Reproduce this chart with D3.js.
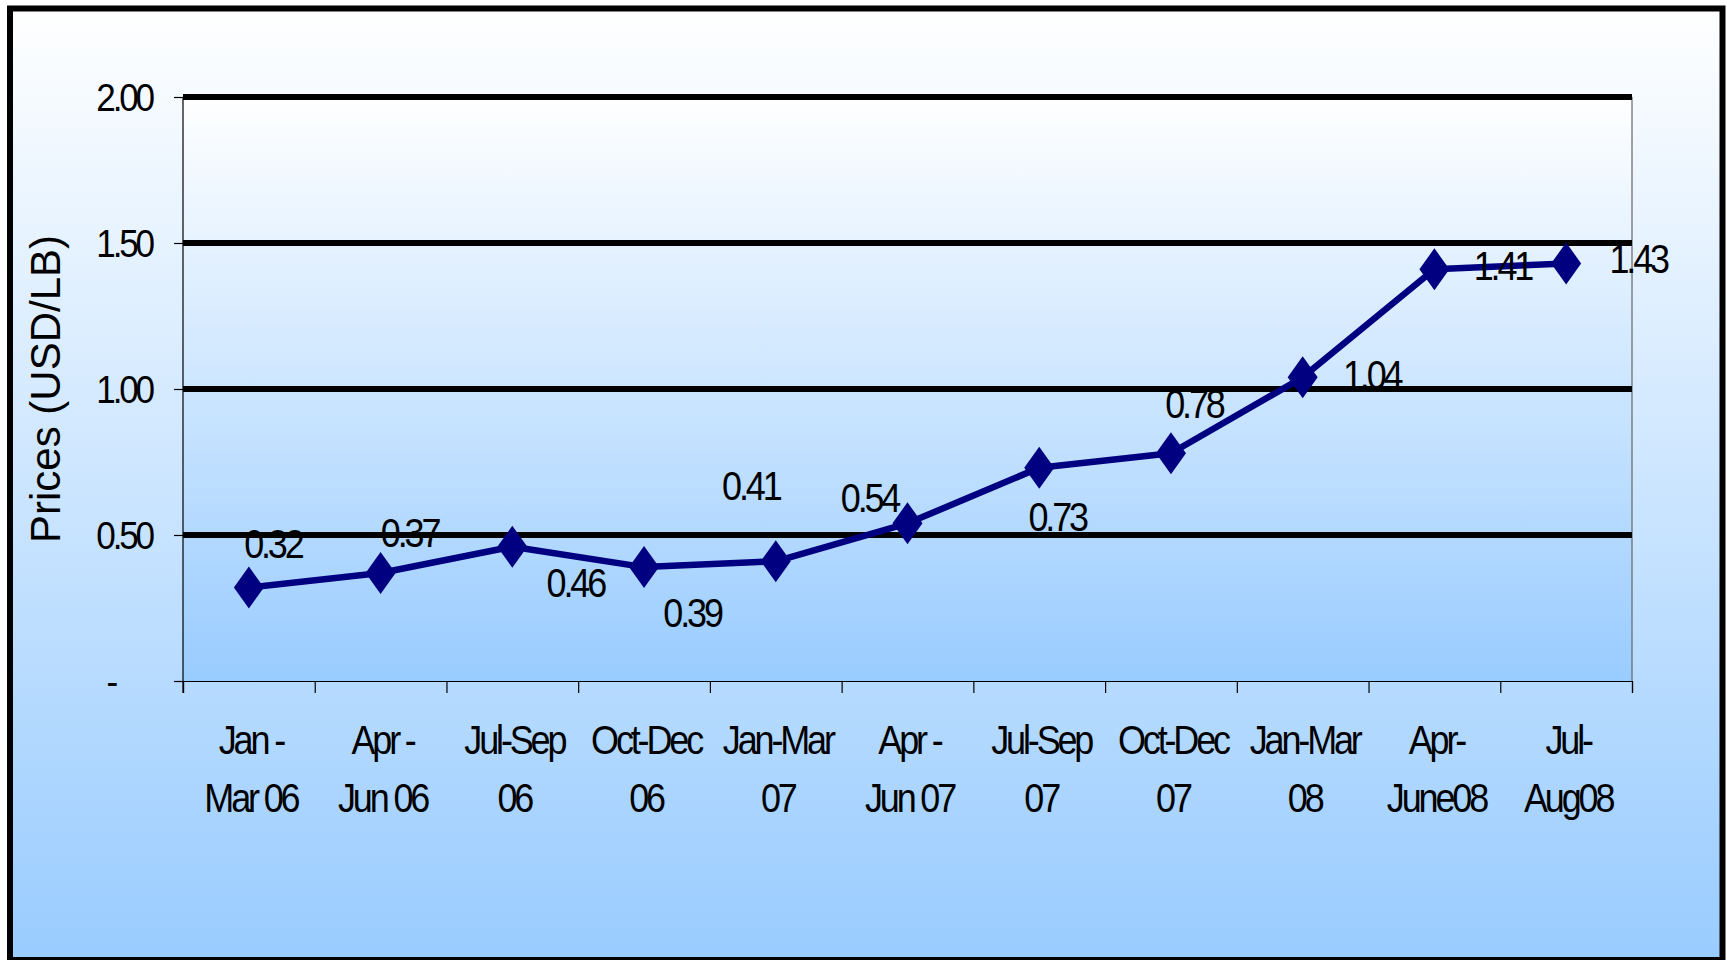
<!DOCTYPE html>
<html>
<head>
<meta charset="utf-8">
<script src="https://cdn.jsdelivr.net/npm/d3@7"></script>
<style>
  html, body { margin: 0; padding: 0; background: #fff; }
  svg { display: block; }
  text { font-family: "Liberation Sans", Arial, sans-serif; fill: #000; }
  .tight { letter-spacing: -3.5px; }
</style>
</head>
<body>
<div id="chart"></div>
<script>
const categories = ["Jan -\nMar 06", "Apr -\nJun 06", "Jul-Sep\n06", "Oct-Dec\n06", "Jan-Mar\n07",
  "Apr -\nJun 07", "Jul-Sep\n07", "Oct-Dec\n07", "Jan-Mar\n08", "Apr-\nJune08", "Jul-\nAug08"];
const prices = [0.32, 0.37, 0.46, 0.39, 0.41, 0.54, 0.73, 0.78, 1.04, 1.41, 1.43];
const yTicks = [0, 0.5, 1.0, 1.5, 2.0];
const yTickLabels = ["-", "0.50", "1.00", "1.50", "2.00"];
const yTitle = "Prices (USD/LB)";

// where each value label sits relative to its point (centre x, baseline y)
const labelOffsets = [[24, -30], [29, -26], [63, 50], [48, 60], [-25, -61], [-38, -11],
  [18, 63], [23, -35], [69, 12], [68, 11], [72, 10]];

const squeeze = 0.9; // the old chart text is compressed and tightly kerned

function drawChart(parentSelector){
  const width = 1727, height = 960;
  const plot = {left: 183, right: 1632, top: 97, bottom: 681};
  const n = categories.length;

  const svg = d3.select(parentSelector).append("svg")
      .attr("width", width)
      .attr("height", height);

  const defs = svg.append("defs");
  ["bgGrad", "plotGrad"].forEach(id => {
    const g = defs.append("linearGradient").attr("id", id)
        .attr("x1", 0).attr("y1", 0).attr("x2", 0).attr("y2", 1);
    g.append("stop").attr("offset", "0%").attr("stop-color", "#ffffff");
    g.append("stop").attr("offset", "100%").attr("stop-color", "#99ccff");
  });

  // outer frame
  svg.append("rect")
      .attr("x", 10).attr("y", 8.5)
      .attr("width", 1712.5).attr("height", 951.5)
      .attr("fill", "url(#bgGrad)")
      .attr("stroke", "#000").attr("stroke-width", 6);

  // plot area
  svg.append("rect")
      .attr("x", plot.left).attr("y", plot.top)
      .attr("width", plot.right - plot.left).attr("height", plot.bottom - plot.top)
      .attr("fill", "url(#plotGrad)");

  const y = d3.scaleLinear().domain([0, 2]).range([plot.bottom, plot.top]);
  const xBand = d3.scaleBand().domain(d3.range(n)).range([plot.left, plot.right]);
  const xEdge = d3.scaleLinear().domain([0, n]).range([plot.left, plot.right]);
  const cx = i => xBand(i) + xBand.bandwidth() / 2;

  // right edge of plot
  svg.append("line")
      .attr("x1", plot.right).attr("x2", plot.right)
      .attr("y1", plot.top).attr("y2", plot.bottom)
      .attr("stroke", "#666").attr("stroke-width", 1.2);

  // gridlines
  svg.append("g").selectAll("line")
      .data(yTicks.filter(d => d > 0))
    .join("line")
      .attr("x1", plot.left).attr("x2", plot.right)
      .attr("y1", d => y(d)).attr("y2", d => y(d))
      .attr("stroke", "#000").attr("stroke-width", 6);

  // Y axis
  const yAxis = svg.append("g")
      .attr("transform", "translate(" + plot.left + ",0)")
      .call(d3.axisLeft(y).tickValues(yTicks).tickSize(9)
        .tickFormat((d, i) => yTickLabels[i]));
  yAxis.select(".domain").remove();
  yAxis.selectAll(".tick line").attr("stroke", "#000").attr("stroke-width", 1.2);
  yAxis.selectAll(".tick text")
      .attr("class", "tight")
      .attr("x", null).attr("dy", null)
      .attr("font-size", 39)
      .attr("text-anchor", "end")
      .attr("fill", "#000")
      .attr("transform", d => "translate(" + (d === 0 ? -68 : -31) + ",13.5) scale(" + squeeze + ",1)");

  svg.append("line")
      .attr("x1", plot.left).attr("x2", plot.left)
      .attr("y1", plot.top).attr("y2", plot.bottom + 12)
      .attr("stroke", "#000").attr("stroke-width", 1.2);

  // X axis, ticks at category boundaries
  const xAxis = svg.append("g")
      .attr("transform", "translate(0," + plot.bottom + ")")
      .call(d3.axisBottom(xEdge).tickValues(d3.range(n + 1)).tickSize(12).tickFormat(""));
  xAxis.selectAll("line, path").attr("stroke", "#000").attr("stroke-width", 1.2);

  const xLabels = svg.append("g").selectAll("text")
      .data(categories)
    .join("text")
      .attr("class", "tight")
      .attr("font-size", 40)
      .attr("text-anchor", "middle")
      .attr("transform", (d, i) => "translate(" + (cx(i) + 2) + ",754) scale(" + squeeze + ",1)");
  xLabels.each(function(d){
    const t = d3.select(this);
    d.split("\n").forEach((line, k) => {
      t.append("tspan").attr("x", 0).attr("y", k * 58).text(line);
    });
  });

  // Y title
  svg.append("text")
      .attr("transform", "translate(60," + ((plot.top + plot.bottom) / 2) + ") rotate(-90)")
      .attr("text-anchor", "middle")
      .attr("font-size", 42)
      .text(yTitle);

  // the line
  const valueLine = d3.line()
      .x((d, i) => cx(i))
      .y(d => y(d));

  svg.append("path")
      .datum(prices)
      .attr("fill", "none")
      .attr("stroke", "#000080")
      .attr("stroke-width", 6.5)
      .attr("stroke-linejoin", "round")
      .attr("d", valueLine);

  // diamond markers
  svg.append("g").selectAll("path")
      .data(prices)
    .join("path")
      .attr("d", "M0,-21L15,0L0,21L-15,0Z")
      .attr("fill", "#000080")
      .attr("transform", (d, i) => "translate(" + cx(i) + "," + y(d) + ")");

  // value labels
  svg.append("g").selectAll("text")
      .data(prices)
    .join("text")
      .attr("class", "tight")
      .attr("font-size", 40)
      .attr("text-anchor", "middle")
      .attr("transform", (d, i) => "translate(" + (cx(i) + labelOffsets[i][0]) + "," +
        (y(d) + labelOffsets[i][1]) + ") scale(" + squeeze + ",1)")
      .text(d => d3.format(".2f")(d));
}

drawChart("#chart");
</script>
</body>
</html>
